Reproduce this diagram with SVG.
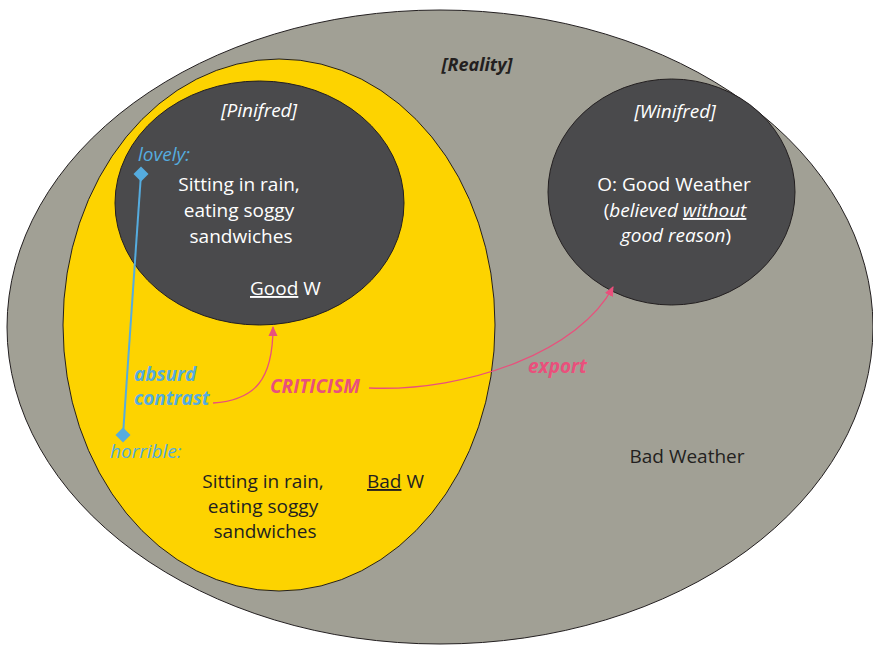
<svg xmlns="http://www.w3.org/2000/svg" width="873" height="646" viewBox="0 0 873 646">
<defs>
<style>
.outline{stroke:#231f20;stroke-width:1}
.t{font-family:"Open Sans","Noto Sans",sans-serif;font-size:19px}
.w{fill:#ffffff}
.d{fill:#231f20}
.it{font-style:italic}
.b{font-weight:bold}
.blue{fill:#55acdf}
.pink{fill:#e9507c}
.u{text-decoration:underline}
.pinkline{fill:none;stroke:#e9507c;stroke-width:1.3}
.blueline{fill:none;stroke:#55acdf;stroke-width:2}
</style>
<marker id="arrow" viewBox="0 0 10 10" refX="9" refY="5" markerWidth="10" markerHeight="10" markerUnits="userSpaceOnUse" orient="auto">
<path d="M0,0.5 L10,5 L0,9.5 Z" fill="#e9507c"/>
</marker>
<marker id="diamond" viewBox="-8 -8 16 16" refX="0" refY="0" markerWidth="16" markerHeight="16" markerUnits="userSpaceOnUse">
<path d="M0,-7.5 L7.5,0 L0,7.5 L-7.5,0 Z" fill="#55acdf"/>
</marker>
</defs>
<rect width="873" height="646" fill="#ffffff"/>
<g id="reality">
<ellipse class="outline" cx="440" cy="327" rx="433" ry="317" fill="#a1a095"/>
<text class="t d it b" x="477" y="71" text-anchor="middle" style="font-size:18px">[Reality]</text>
<text class="t d" x="687" y="463" text-anchor="middle">Bad Weather</text>
</g>
<g id="pinifred-world">
<ellipse class="outline" cx="279" cy="325" rx="216" ry="266" fill="#fdd300"/>
<text class="t blue it" x="110" y="458">horrible:</text>
<text class="t d" text-anchor="middle"><tspan x="263" y="488">Sitting in rain,</tspan><tspan x="263" y="513">eating soggy</tspan><tspan x="265" y="538">sandwiches</tspan></text>
<text class="t d" x="367" y="488"><tspan class="u">Bad</tspan> W</text>
<text class="t blue it b" x="134" y="381">absurd</text>
<text class="t blue it b" x="134" y="405">contrast</text>
<text class="t pink it b" x="270" y="393">CRITICISM</text>
</g>
<g id="pinifred">
<ellipse class="outline" cx="259.5" cy="203" rx="144.5" ry="122" fill="#4a4a4c"/>
<text class="t w it" x="259" y="117" text-anchor="middle">[Pinifred]</text>
<text class="t blue it" x="138" y="161">lovely:</text>
<text class="t w" text-anchor="middle"><tspan x="239" y="191">Sitting in rain,</tspan><tspan x="239" y="217">eating soggy</tspan><tspan x="241" y="243">sandwiches</tspan></text>
<text class="t w" x="250" y="295"><tspan class="u">Good</tspan> W</text>
</g>
<g id="winifred">
<ellipse class="outline" cx="671.5" cy="192" rx="123.5" ry="113" fill="#4a4a4c"/>
<text class="t w it" x="675" y="118" text-anchor="middle">[Winifred]</text>
<text class="t w" x="674" y="191" text-anchor="middle">O: Good Weather</text>
<text class="t w" x="675" y="217" text-anchor="middle">(<tspan class="it">believed </tspan><tspan class="it u">without</tspan></text>
<text class="t w" x="676" y="242" text-anchor="middle"><tspan class="it">good reason</tspan>)</text>
</g>
<g id="connectors">
<path class="blueline" d="M141,174 L123,435" marker-start="url(#diamond)" marker-end="url(#diamond)"/>
<path class="pinkline" d="M213,403 C255,400 273,380 273,327" marker-end="url(#arrow)"/>
<text class="t pink it b" x="528" y="373">export</text>
<path class="pinkline" d="M369,388 C470,392 580,350 613,287" marker-end="url(#arrow)"/>
</g>
</svg>
